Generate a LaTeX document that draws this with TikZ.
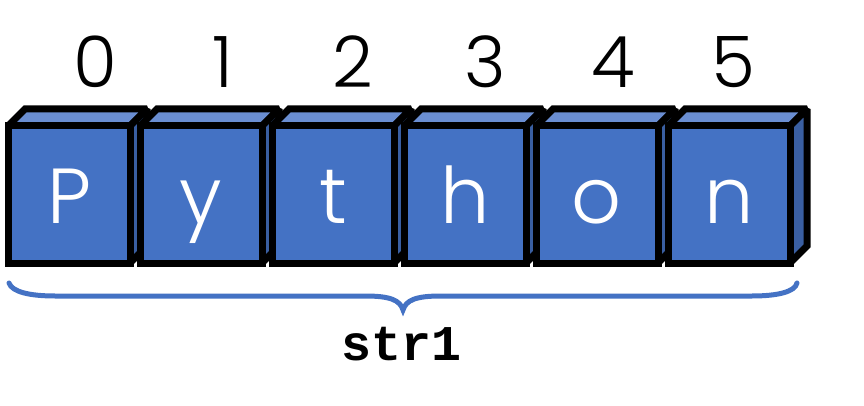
\documentclass[tikz,border=0pt]{standalone}
\usepackage{fontspec}
\newfontfamily\popp{Poppins}[UprightFont={* Light}]
\newfontfamily\monof{Liberation Mono}
\definecolor{frontc}{HTML}{4472C4}
\definecolor{topc}{HTML}{6A8ED2}
\definecolor{sidec}{HTML}{3A5FA2}
\begin{document}
\begin{tikzpicture}[x=1pt,y=-1pt,
  face/.style={draw=black,line width=7pt,line join=miter,miter limit=2},
  idx/.style={anchor=base,inner sep=0pt,font=\popp\fontsize{71}{80}\selectfont},
  letter/.style={anchor=base,inner sep=0pt,text=white,font=\popp\fontsize{78}{86}\selectfont},
  lbl/.style={anchor=base,inner sep=0pt,font=\monof\bfseries\fontsize{50}{56}\selectfont}]
\useasboundingbox (0,0) rectangle (864,406);
\foreach \i in {0,...,5}{
  \pgfmathsetmacro{\xl}{8+132*\i}
  \pgfmathsetmacro{\xr}{\xl+122}
  \fill[frontc] (\xl,126) rectangle (\xr,263);
  \draw[face,fill=topc] (\xl,126) -- (\xl+17,109) -- (\xr+17,109) -- (\xr,126) -- cycle;
  \draw[face,fill=sidec] (\xr,126) -- (\xr+17,109) -- (\xr+17,246) -- (\xr,263) -- cycle;
  \draw[face,fill=frontc] (\xl,126) rectangle (\xr,263);
}
\node[letter] (c0) at (69,223) {P};
\node[letter] (c1) at (201,223) {y};
\node[letter] (c2) at (333,223) {t};
\node[letter] (c3) at (465,223) {h};
\node[letter] (c4) at (597,223) {o};
\node[letter] (c5) at (729,223) {n};
\node[idx] (i0) at (95,88) {0};
\node[idx] (i1) at (223,88) {1};
\node[idx] (i2) at (353,88) {2};
\node[idx] (i3) at (485,88) {3};
\node[idx] (i4) at (613,88) {4};
\node[idx] (i5) at (733,88) {5};
\draw[frontc,line width=5pt,line cap=round]
  (9,283) .. controls (12,292) and (30,296) .. (55,296) -- (365,296)
  .. controls (390,296) and (400,300) .. (403,310)
  .. controls (406,300) and (416,296) .. (441,296) -- (752,296)
  .. controls (777,296) and (795,292) .. (797,283);
\node[lbl] (name) at (401.5,360) {str1};
\end{tikzpicture}
\end{document}
